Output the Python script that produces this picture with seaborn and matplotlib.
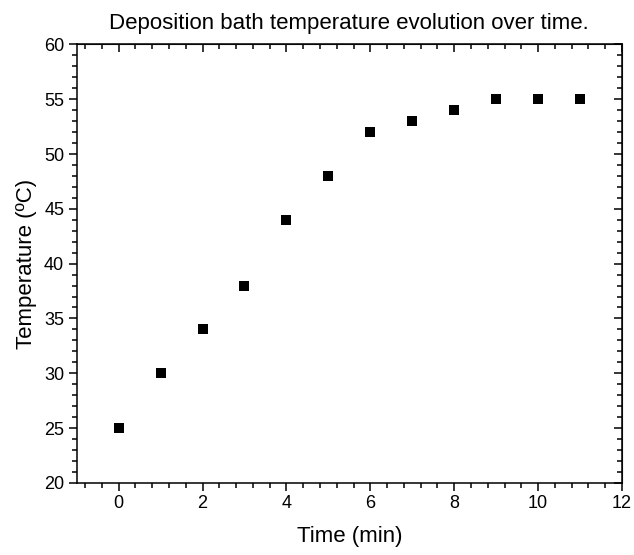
import matplotlib
matplotlib.use("Agg")
import matplotlib.pyplot as plt
from matplotlib.ticker import MultipleLocator
import pandas as pd
import seaborn as sns

# Data
time_min = [0, 1, 2, 3, 4, 5, 6, 7, 8, 9, 10, 11]
temperature_c = [25, 30, 34, 38, 44, 48, 52, 53, 54, 55, 55, 55]

df = pd.DataFrame({"Time (min)": time_min, "Temperature (ºC)": temperature_c})

sns.set_style("ticks")
plt.rcParams["font.family"] = ["Liberation Sans", "DejaVu Sans"]
plt.rcParams["text.color"] = "black"
plt.rcParams["axes.labelcolor"] = "black"

fig = plt.figure(figsize=(6.34, 5.55), dpi=100)
ax = fig.add_axes([0.121, 0.13, 0.86, 0.79])

sns.scatterplot(data=df, x="Time (min)", y="Temperature (ºC)", marker="s",
                color="black", s=55, edgecolor="black", linewidth=0, ax=ax)

ax.set_xlim(-1, 12)
ax.set_ylim(20, 60)
ax.xaxis.set_major_locator(MultipleLocator(2))
ax.xaxis.set_minor_locator(MultipleLocator(0.4))
ax.yaxis.set_major_locator(MultipleLocator(5))
ax.yaxis.set_minor_locator(MultipleLocator(1))

for sp in ax.spines.values():
    sp.set_visible(True)
    sp.set_linewidth(1.1)
    sp.set_color("black")

ax.tick_params(which="major", direction="out", length=5.5, width=1.1,
               labelsize=13, colors="black")
ax.tick_params(which="minor", direction="out", length=3.5, width=1.1, colors="black")

# top and right: inward ticks without labels
top = ax.secondary_xaxis("top")
top.xaxis.set_major_locator(MultipleLocator(2))
top.xaxis.set_minor_locator(MultipleLocator(0.4))
top.tick_params(which="major", direction="in", length=5.5, width=1.1, labeltop=False, colors="black")
top.tick_params(which="minor", direction="in", length=3.5, width=1.1, colors="black")
right = ax.secondary_yaxis("right")
right.yaxis.set_major_locator(MultipleLocator(5))
right.yaxis.set_minor_locator(MultipleLocator(1))
right.tick_params(which="major", direction="in", length=5.5, width=1.1, labelright=False, colors="black")
right.tick_params(which="minor", direction="in", length=3.5, width=1.1, colors="black")

ax.set_xlabel("Time (min)", fontsize=16, labelpad=10, color="black")
ax.set_ylabel("Temperature (ºC)", fontsize=16, labelpad=5, color="black")
ax.set_title("Deposition bath temperature evolution over time.", fontsize=16, pad=11, color="black")

fig.savefig("out.png", dpi=100)
